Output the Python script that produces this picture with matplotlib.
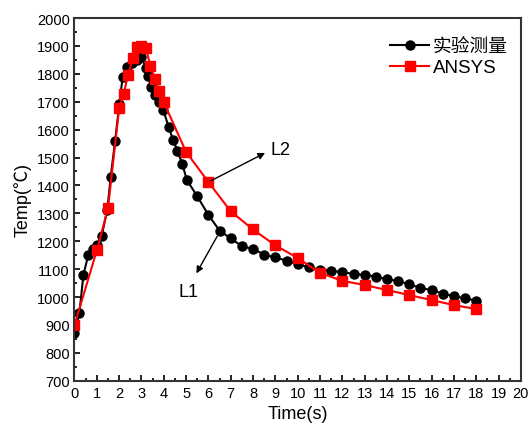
import matplotlib
matplotlib.use('Agg')
import matplotlib.pyplot as plt
from matplotlib.ticker import MultipleLocator

plt.rcParams['font.family'] = ['Liberation Sans', 'Noto Sans CJK SC', 'DejaVu Sans']

# 实验测量 (experiment)
t_exp = [0, 0.22, 0.4, 0.62, 0.84, 1.0, 1.22, 1.47, 1.62, 1.82, 2.01, 2.16, 2.37, 2.58,
         2.8, 3.0, 3.2, 3.31, 3.42, 3.61, 3.79, 3.98, 4.22, 4.42, 4.61, 4.83, 5.03,
         5.5, 6.0, 6.5, 7.0, 7.5, 8.0, 8.5, 9.0, 9.5, 10.0, 10.5, 11.0, 11.5, 12.0,
         12.5, 13.0, 13.5, 14.0, 14.5, 15.0, 15.5, 16.0, 16.5, 17.0, 17.5, 18.0]
v_exp = [870, 943, 1080, 1151, 1172, 1186, 1220, 1313, 1429, 1560, 1692, 1790, 1823, 1838,
         1848, 1859, 1820, 1793, 1752, 1724, 1698, 1671, 1608, 1563, 1524, 1477, 1420,
         1361, 1294, 1238, 1210, 1182, 1172, 1152, 1142, 1130, 1117, 1107, 1098, 1094, 1089,
         1083, 1079, 1073, 1064, 1057, 1046, 1032, 1025, 1012, 1003, 995, 987]

# ANSYS
t_sim = [0, 1, 1.5, 2, 2.2, 2.4, 2.6, 2.8, 3.0, 3.2, 3.4, 3.6, 3.8, 4, 5, 6, 7, 8, 9,
         10, 11, 12, 13, 14, 15, 16, 17, 18]
v_sim = [900, 1167, 1318, 1676, 1728, 1795, 1855, 1895, 1901, 1891, 1829, 1782, 1740, 1698,
         1520, 1412, 1307, 1242, 1185, 1140, 1086, 1058, 1043, 1025, 1007, 989, 971, 957]

fig = plt.figure(figsize=(5.31, 4.35), dpi=100)
ax = fig.add_axes([0.1403, 0.1225, 0.8407, 0.8338])

ax.plot(t_exp, v_exp, '-o', color='black', lw=1.5, ms=6.5, label='实验测量')
ax.plot(t_sim, v_sim, '-s', color='red', lw=1.5, ms=6.5, label='ANSYS')

ax.set_xlim(0, 20)
ax.set_ylim(700, 2000)
ax.xaxis.set_major_locator(MultipleLocator(1))
ax.xaxis.set_minor_locator(MultipleLocator(0.5))
ax.yaxis.set_major_locator(MultipleLocator(100))
ax.yaxis.set_minor_locator(MultipleLocator(50))
ax.tick_params(which='both', direction='in', labelsize=10.5, width=1.2)
ax.tick_params(which='major', length=4)
ax.tick_params(which='minor', length=2.5)
for s in ax.spines.values():
    s.set_linewidth(1.5)
    s.set_color('#333333')

ax.set_xlabel('Time(s)', fontsize=13)
ax.set_ylabel('Temp(℃)', fontsize=13)

# 箭头标注
ax.annotate('', xy=(8.65, 1521), xytext=(6.0, 1412),
            arrowprops=dict(arrowstyle='-|>', color='black', lw=1, mutation_scale=10))
ax.text(8.8, 1527, 'L2', fontsize=13, va='center')
ax.annotate('', xy=(5.4, 1076), xytext=(6.45, 1226),
            arrowprops=dict(arrowstyle='-|>', color='black', lw=1, mutation_scale=10))
ax.text(4.65, 1018, 'L1', fontsize=13, va='center')

ax.legend(loc='upper right', bbox_to_anchor=(1.005, 0.985), frameon=False,
          fontsize=13.5, handlelength=2.1, borderaxespad=0.4, handletextpad=0.2,
          labelspacing=0.2)

fig.savefig('out.png', dpi=100)
